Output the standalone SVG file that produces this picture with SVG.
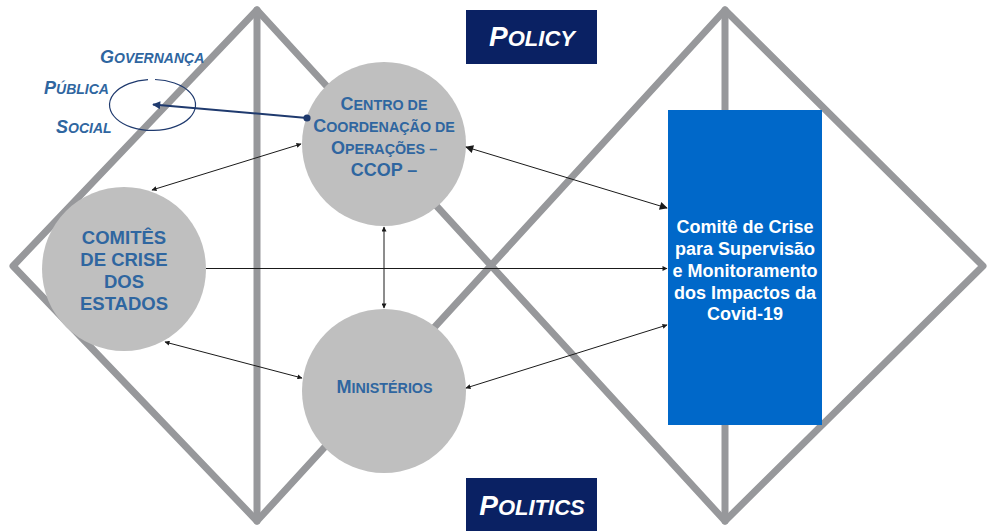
<svg xmlns="http://www.w3.org/2000/svg" width="997" height="531" viewBox="0 0 997 531">
<style>
.frame{fill:none;stroke:#97989b;stroke-width:7;stroke-linejoin:round;stroke-linecap:round}
.circ{fill:#bfbfbf}
.lbl{font-family:"Liberation Sans",Arial,sans-serif;font-weight:bold;fill:#2f66a0}
.box{fill:#0a2163}
.boxt{font-family:"Liberation Sans",Arial,sans-serif;font-weight:bold;font-style:italic;fill:#ffffff}
.wt{font-family:"Liberation Sans",Arial,sans-serif;font-weight:bold;fill:#ffffff;font-size:18px}
.con{fill:none;stroke:#1a1a1a;stroke-width:1}
</style>
<defs>
<marker id="a" viewBox="0 0 10 10" refX="9" refY="5" markerWidth="6" markerHeight="5" markerUnits="userSpaceOnUse" orient="auto-start-reverse">
<path d="M0,0 L10,5 L0,10 Z" fill="#1a1a1a"/>
</marker>
<marker id="ab" viewBox="0 0 10 10" refX="9" refY="5" markerWidth="11" markerHeight="8" markerUnits="userSpaceOnUse" orient="auto-start-reverse">
<path d="M0,0 L10,5 L0,10 Z" fill="#1a1a1a"/>
</marker>
<marker id="an" viewBox="0 0 10 10" refX="9" refY="5" markerWidth="10" markerHeight="8" markerUnits="userSpaceOnUse" orient="auto">
<path d="M0,0 L10,5 L0,10 Z" fill="#1f3a6e"/>
</marker>
</defs>

<g id="frame">
<path class="frame" d="M257,10 L13,266 L257,521 L725,10 L983,266 L725,521 Z"/>
<line class="frame" x1="257" y1="10" x2="257" y2="521"/>
<line class="frame" x1="725" y1="10" x2="725" y2="521"/>
</g>

<g id="policy">
<rect class="box" x="466" y="10" width="131" height="54"/>
<text class="boxt" x="532" y="46" text-anchor="middle" font-size="28">P<tspan font-size="22">OLICY</tspan></text>
</g>

<g id="politics">
<rect class="box" x="466" y="478" width="131" height="53"/>
<text class="boxt" x="532" y="515" text-anchor="middle" font-size="28">P<tspan font-size="22">OLITICS</tspan></text>
</g>

<g id="governanca">
<text class="lbl" font-style="italic" x="100" y="63" font-size="18">G<tspan font-size="14">OVERNANÇA</tspan></text>
<text class="lbl" font-style="italic" x="44" y="94" font-size="18">P<tspan font-size="14">ÚBLICA</tspan></text>
<text class="lbl" font-style="italic" x="56" y="133" font-size="18">S<tspan font-size="14">OCIAL</tspan></text>
<path d="M148,79.6 A43,25.5 0 1,0 155,79.5" fill="none" stroke="#1f3a6e" stroke-width="1.2"/>
</g>

<g id="ccop">
<circle class="circ" cx="384" cy="144" r="82"/>
<text class="lbl" x="384" y="110" text-anchor="middle" font-size="18">C<tspan font-size="14.3">ENTRO DE</tspan></text>
<text class="lbl" x="384" y="132" text-anchor="middle" font-size="18">C<tspan font-size="14.3">OORDENAÇÃO DE</tspan></text>
<text class="lbl" x="384" y="154" text-anchor="middle" font-size="18">O<tspan font-size="14.3">PERAÇÕES –</tspan></text>
<text class="lbl" x="384" y="176" text-anchor="middle" font-size="18">CCOP –</text>
</g>

<g id="comites">
<circle class="circ" cx="124" cy="269" r="82"/>
<text class="lbl" x="124" y="244" text-anchor="middle" font-size="18.5">COMITÊS</text>
<text class="lbl" x="124" y="266" text-anchor="middle" font-size="18.5">DE CRISE</text>
<text class="lbl" x="124" y="288" text-anchor="middle" font-size="18.5">DOS</text>
<text class="lbl" x="124" y="310" text-anchor="middle" font-size="18.5">ESTADOS</text>
</g>

<g id="ministerios">
<circle class="circ" cx="384" cy="391" r="82"/>
<text class="lbl" x="384.5" y="393" text-anchor="middle" font-size="18">M<tspan font-size="14.3">INISTÉRIOS</tspan></text>
</g>

<g id="comite-covid">
<rect x="668" y="110" width="154" height="315" fill="#0068c9"/>
<text class="wt" x="745" y="233" text-anchor="middle">Comitê de Crise</text>
<text class="wt" x="745" y="255" text-anchor="middle">para Supervisão</text>
<text class="wt" x="745" y="277" text-anchor="middle">e Monitoramento</text>
<text class="wt" x="745" y="299" text-anchor="middle">dos Impactos da</text>
<text class="wt" x="745" y="320" text-anchor="middle">Covid-19</text>
</g>

<g id="connectors">
<line x1="307" y1="118" x2="153" y2="104.5" stroke="#1f3a6e" stroke-width="2" marker-end="url(#an)"/>
<circle cx="307" cy="118" r="3.6" fill="#1f3a6e"/>
<line class="con" x1="152" y1="190" x2="301" y2="144" marker-start="url(#a)" marker-end="url(#a)"/>
<line class="con" x1="466" y1="147" x2="667" y2="208" stroke-width="1.6" marker-start="url(#ab)" marker-end="url(#ab)"/>
<line class="con" x1="206" y1="268.5" x2="667" y2="268.5" stroke="#7a7a7a" stroke-width="1.4" marker-end="url(#a)"/>
<line class="con" x1="384" y1="227" x2="384" y2="308" stroke="#555" marker-start="url(#a)" marker-end="url(#a)"/>
<line class="con" x1="165" y1="342" x2="302" y2="378" marker-start="url(#a)" marker-end="url(#a)"/>
<line class="con" x1="466" y1="388" x2="667" y2="325" marker-start="url(#a)" marker-end="url(#a)"/>
</g>
</svg>
